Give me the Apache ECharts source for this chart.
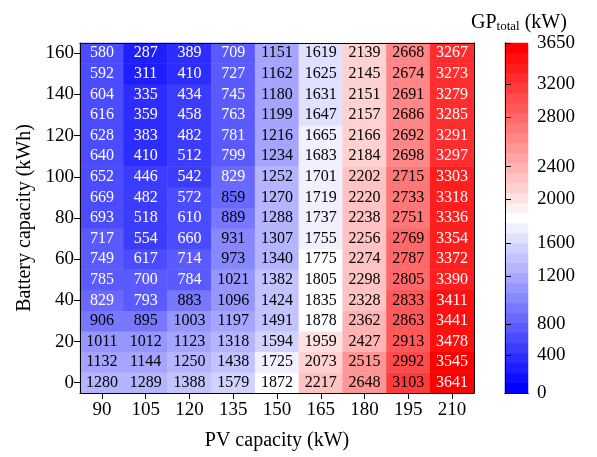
<!DOCTYPE html>
<html>
<head>
<meta charset="utf-8">
<script src="https://cdn.jsdelivr.net/npm/echarts@6/dist/echarts.min.js"></script>
<style>
  html, body { margin: 0; padding: 0; background: #ffffff; }
  #chart { width: 597px; height: 457px; }
</style>
</head>
<body>
<div id="chart"></div>
<script>
// PV capacity (columns) and battery capacity (rows)
const pvCapacity = ['90', '105', '120', '135', '150', '165', '180', '195', '210'];
const batteryCapacity = ['0', '10', '20', '30', '40', '50', '60', '70', '80',
                         '90', '100', '110', '120', '130', '140', '150', '160'];

// GP_total (kW), one row per battery capacity, from 0 kWh up to 160 kWh
const gpTotal = [
  [1280, 1289, 1388, 1579, 1872, 2217, 2648, 3103, 3641],
  [1132, 1144, 1250, 1438, 1725, 2073, 2515, 2992, 3545],
  [1011, 1012, 1123, 1318, 1594, 1959, 2427, 2913, 3478],
  [906, 895, 1003, 1197, 1491, 1878, 2362, 2863, 3441],
  [829, 793, 883, 1096, 1424, 1835, 2328, 2833, 3411],
  [785, 700, 784, 1021, 1382, 1805, 2298, 2805, 3390],
  [749, 617, 714, 973, 1340, 1775, 2274, 2787, 3372],
  [717, 554, 660, 931, 1307, 1755, 2256, 2769, 3354],
  [693, 518, 610, 889, 1288, 1737, 2238, 2751, 3336],
  [669, 482, 572, 859, 1270, 1719, 2220, 2733, 3318],
  [652, 446, 542, 829, 1252, 1701, 2202, 2715, 3303],
  [640, 410, 512, 799, 1234, 1683, 2184, 2698, 3297],
  [628, 383, 482, 781, 1216, 1665, 2166, 2692, 3291],
  [616, 359, 458, 763, 1199, 1647, 2157, 2686, 3285],
  [604, 335, 434, 745, 1180, 1631, 2151, 2691, 3279],
  [592, 311, 410, 727, 1162, 1625, 2145, 2674, 3273],
  [580, 287, 389, 709, 1151, 1619, 2139, 2668, 3267]
];

// Discrete colour levels (band boundaries) and the colour-bar tick values
const colorLevels = [0, 105, 210, 315, 425, 560, 694, 810, 860, 930, 1000, 1120,
                     1240, 1381, 1500, 1600, 1662, 1762, 1880, 1953, 2067, 2200,
                     2333, 2437, 2513, 2650, 2700, 2760, 2827, 2955, 3084, 3210,
                     3300, 3400, 3540, 3650];
const colorTicks = [0, 400, 800, 1200, 1600, 2000, 2400, 2800, 3200, 3650];

const FONT = 'Liberation Serif';

// blue-white-red diverging colormap
function bwr(t) {
  let r, g, b;
  if (t <= 0.5) { r = g = 2 * t; b = 1; }
  else { r = 1; g = b = 2 * (1 - t); }
  return 'rgb(' + Math.round(r * 255) + ',' + Math.round(g * 255) + ',' + Math.round(b * 255) + ')';
}

const nBands = colorLevels.length - 1;
const bandColors = [];
for (let k = 0; k < nBands; k++) bandColors.push(bwr(k / (nBands - 1)));

const pieces = bandColors.map((c, k) => (
  k === nBands - 1
    ? { gte: colorLevels[k], lte: colorLevels[k + 1], color: c }
    : { gte: colorLevels[k], lt: colorLevels[k + 1], color: c }
));

// position of a value on the colour bar, in band units (bands are equal height)
function bandPos(v) {
  for (let k = 0; k < nBands; k++) {
    if (v <= colorLevels[k + 1]) {
      return k + (v - colorLevels[k]) / (colorLevels[k + 1] - colorLevels[k]);
    }
  }
  return nBands;
}
const tickPositions = colorTicks.map(bandPos);

const cells = [];
gpTotal.forEach((row, yi) => {
  row.forEach((v, xi) => {
    cells.push({
      value: [xi, yi, v],
      label: { color: (v < 850 || v > 3200) ? '#ffffff' : '#000000' }
    });
  });
});

const bandData = bandColors.map((c, k) => [0, k]);

const frameLine = { show: true, lineStyle: { color: '#000', width: 1 } };
const tickStyle = { color: '#000', width: 1 };

const chart = echarts.init(document.getElementById('chart'), null, { renderer: 'canvas' });

chart.setOption({
  backgroundColor: '#ffffff',
  animation: false,
  title: {
    text: '{a|GP}{b|total}{a| (kW)}',
    left: 466,
    top: 4,
    textStyle: {
      fontWeight: 'normal',
      rich: {
        a: { fontFamily: FONT, fontSize: 20, fontWeight: 'normal', color: '#000', lineHeight: 24, verticalAlign: 'bottom' },
        b: { fontFamily: FONT, fontSize: 13, fontWeight: 'normal', color: '#000', lineHeight: 13, verticalAlign: 'bottom', padding: [9, 0, 0, 0] }
      }
    }
  },
  grid: [
    { left: 80, top: 43, width: 394, height: 350, containLabel: false },
    { left: 505, top: 43, width: 23, height: 350, containLabel: false }
  ],
  xAxis: [
    {
      type: 'category', gridIndex: 0, data: pvCapacity, position: 'bottom', z: 10,
      axisLine: frameLine,
      axisTick: { show: true, alignWithLabel: true, length: 6, lineStyle: tickStyle },
      axisLabel: { fontFamily: FONT, fontSize: 19, color: '#000', margin: 8 },
      name: 'PV capacity (kW)', nameLocation: 'middle', nameGap: 38,
      nameTextStyle: { fontFamily: FONT, fontSize: 20, color: '#000' },
      splitLine: { show: false }
    },
    {
      type: 'category', gridIndex: 0, data: pvCapacity, position: 'top', z: 10,
      axisLine: frameLine, axisTick: { show: false }, axisLabel: { show: false }
    },
    {
      type: 'value', gridIndex: 1, min: 0, max: 1, position: 'bottom', z: 10,
      axisLine: frameLine, axisTick: { show: false }, axisLabel: { show: false },
      splitLine: { show: false }
    },
    {
      type: 'value', gridIndex: 1, min: 0, max: 1, position: 'top', z: 10,
      axisLine: frameLine, axisTick: { show: false }, axisLabel: { show: false },
      splitLine: { show: false }
    }
  ],
  yAxis: [
    {
      type: 'category', gridIndex: 0, data: batteryCapacity, position: 'left', z: 10,
      axisLine: frameLine,
      axisTick: { show: true, alignWithLabel: true, interval: 1, length: 6, lineStyle: tickStyle },
      axisLabel: { interval: 1, fontFamily: FONT, fontSize: 19, color: '#000', margin: 6 },
      name: 'Battery capacity (kWh)', nameLocation: 'middle', nameGap: 42,
      nameTextStyle: { fontFamily: FONT, fontSize: 20, color: '#000' },
      splitLine: { show: false }
    },
    {
      type: 'category', gridIndex: 0, data: batteryCapacity, position: 'right', z: 10,
      axisLine: frameLine, axisTick: { show: false }, axisLabel: { show: false }
    },
    {
      type: 'value', gridIndex: 1, min: 0, max: nBands, position: 'left', z: 10,
      axisLine: frameLine, axisTick: { show: false }, axisLabel: { show: false },
      splitLine: { show: false }
    },
    {
      type: 'value', gridIndex: 1, min: 0, max: nBands, position: 'right', z: 10,
      axisLine: frameLine,
      axisTick: { show: true, length: 6, lineStyle: tickStyle, customValues: tickPositions },
      axisLabel: {
        show: true, fontFamily: FONT, fontSize: 19, color: '#000', margin: 9,
        customValues: tickPositions,
        formatter: (val) => {
          const i = tickPositions.findIndex(p => Math.abs(p - val) < 1e-6);
          return i >= 0 ? String(colorTicks[i]) : '';
        }
      },
      splitLine: { show: false }
    }
  ],
  visualMap: {
    type: 'piecewise',
    show: false,
    seriesIndex: 0,
    dimension: 2,
    pieces: pieces
  },
  series: [
    {
      type: 'heatmap',
      xAxisIndex: 0,
      yAxisIndex: 0,
      data: cells,
      label: {
        show: true,
        fontFamily: FONT,
        fontSize: 16,
        formatter: (p) => String(p.value[2])
      },
      itemStyle: { borderWidth: 0 },
      emphasis: { disabled: true }
    },
    {
      type: 'custom',
      xAxisIndex: 2,
      yAxisIndex: 2,
      data: bandData,
      encode: { x: 0, y: 1 },
      silent: true,
      renderItem: (params, api) => {
        const k = api.value(1);
        const p0 = api.coord([0, k]);
        const p1 = api.coord([1, k + 1]);
        return {
          type: 'rect',
          shape: { x: p0[0], y: p1[1], width: p1[0] - p0[0], height: p0[1] - p1[1] },
          style: { fill: bandColors[k], stroke: bandColors[k], lineWidth: 0.5 }
        };
      }
    }
  ]
});
</script>
</body>
</html>
